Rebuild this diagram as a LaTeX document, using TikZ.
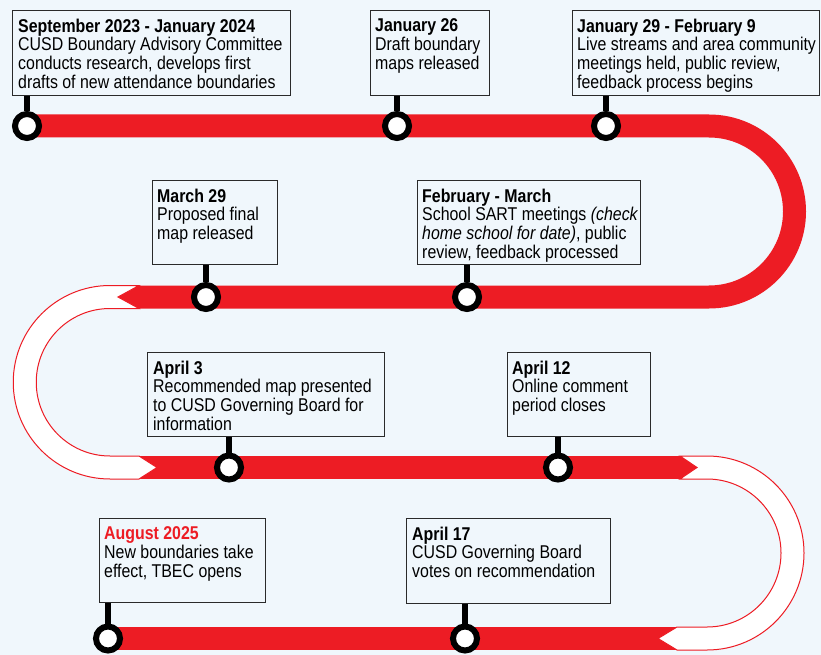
\documentclass[tikz,border=0pt]{standalone}
\usepackage{fontspec}
\setmainfont{Liberation Sans}[FakeStretch=0.86]
\usetikzlibrary{positioning,calc}
\definecolor{trackred}{HTML}{ED1C24}
\definecolor{bgblue}{HTML}{F0F7FC}
\definecolor{boxline}{HTML}{2A2A2A}
\tikzset{
	track/.style={line width=23pt, color=trackred},
	future/.style={fill=white, draw=trackred, line width=1pt},
	stop/.style={circle, draw=black, fill=white, line width=6pt, minimum size=24pt, inner sep=0pt},
	stem/.style={line width=6pt, color=black},
	evbox/.style={draw=boxline, fill=bgblue, line width=1.3pt, anchor=north west, inner sep=0pt},
	evtext/.style={anchor=north west, inner sep=0pt, align=left, font=\fontsize{18.5}{18.7}\selectfont}
}

\begin{document}
\begin{tikzpicture}[x=1pt,y=-1pt]
	\fill[bgblue] (0,0) rectangle (821,655);
	\useasboundingbox (0,0) rectangle (821,655);

	% the red line
	\draw[track] (27,126) -- (709,126) arc[start angle=-90, end angle=90, radius=85.5] -- (139,297);
	\fill[trackred] (139,285.5) -- (118,297) -- (139,308.5) -- cycle;
	\draw[track] (139,467.5) -- (680,467.5);
	\fill[trackred] (680,456) -- (697,467.5) -- (680,479) -- cycle;
	\draw[track] (108,638.5) -- (677,638.5);

	% white bends
	\draw[future] (139,285.5) -- (110,285.5) arc[start angle=270, end angle=90, radius=96.75] -- (139,479) -- (157,467.5) -- (139,456) -- (110,456) arc[start angle=90, end angle=270, radius=73.75] -- (139,308.5) -- (118,297) -- cycle;
	\draw[future] (680,456) -- (707,456) arc[start angle=-90, end angle=90, radius=97] -- (677,650) -- (658,638.5) -- (677,627) -- (707,627) arc[start angle=90, end angle=-90, radius=74] -- (680,479) -- (697,467.5) -- cycle;

	% stops
	\node[stop] (c1) at (27,126) {};
	\node[stop] (c2) at (397,126) {};
	\node[stop] (c3) at (606,126) {};
	\node[stop] (c4) at (206,297) {};
	\node[stop] (c5) at (467,297) {};
	\node[stop] (c6) at (229,467.5) {};
	\node[stop] (c7) at (558,467.5) {};
	\node[stop] (c8) at (108,638.5) {};
	\node[stop] (c9) at (465,638.5) {};

	% boxes
	\node[evbox, minimum width=278pt, minimum height=85pt] (b1) at (12,10) {};
	\node[evbox, minimum width=119pt, minimum height=85pt] (b2) at (370,10) {};
	\node[evbox, minimum width=247pt, minimum height=85pt] (b3) at (572,10) {};
	\node[evbox, minimum width=125pt, minimum height=84pt] (b4) at (152,180) {};
	\node[evbox, minimum width=223pt, minimum height=84pt] (b5) at (417,180) {};
	\node[evbox, minimum width=237pt, minimum height=84pt] (b6) at (147,352) {};
	\node[evbox, minimum width=143pt, minimum height=84pt] (b7) at (507,352) {};
	\node[evbox, minimum width=166pt, minimum height=84pt] (b8) at (99,518) {};
	\node[evbox, minimum width=204pt, minimum height=85pt] (b9) at (406,518) {};

	\draw[stem] (c1) -- (c1 |- b1.south);
	\draw[stem] (c2) -- (c2 |- b2.south);
	\draw[stem] (c3) -- (c3 |- b3.south);
	\draw[stem] (c4) -- (c4 |- b4.south);
	\draw[stem] (c5) -- (c5 |- b5.south);
	\draw[stem] (c6) -- (c6 |- b6.south);
	\draw[stem] (c7) -- (c7 |- b7.south);
	\draw[stem] (c8) -- (c8 |- b8.south);
	\draw[stem] (c9) -- (c9 |- b9.south);

	% texts
	\node[evtext] (t1) at ([shift={(6,8.5)}]b1.north west) {\textbf{September 2023 - January 2024}\\CUSD Boundary Advisory Committee\\conducts research, develops first\\drafts of new attendance boundaries};
	\node[evtext] (t2) at ([shift={(5,8.5)}]b2.north west) {\textbf{January 26}\\Draft boundary\\maps released};
	\node[evtext] (t3) at ([shift={(5,8.5)}]b3.north west) {\textbf{January 29 - February 9}\\Live streams and area community\\meetings held, public review,\\feedback process begins};
	\node[evtext] (t4) at ([shift={(5,8.5)}]b4.north west) {\textbf{March 29}\\Proposed final\\map released};
	\node[evtext] (t5) at ([shift={(5,8.5)}]b5.north west) {\textbf{February - March}\\School SART meetings \textit{(check}\\\textit{home school for date)}, public\\review, feedback processed};
	\node[evtext] (t6) at ([shift={(6,8.5)}]b6.north west) {\textbf{April 3}\\Recommended map presented\\to CUSD Governing Board for\\information};
	\node[evtext] (t7) at ([shift={(5,8.5)}]b7.north west) {\textbf{April 12}\\Online comment\\period closes};
	\node[evtext] (t8) at ([shift={(5,8.5)}]b8.north west) {\textcolor{trackred}{\textbf{August 2025}}\\New boundaries take\\effect, TBEC opens};
	\node[evtext] (t9) at ([shift={(6,8.5)}]b9.north west) {\textbf{April 17}\\CUSD Governing Board\\votes on recommendation};
\end{tikzpicture}
\end{document}
